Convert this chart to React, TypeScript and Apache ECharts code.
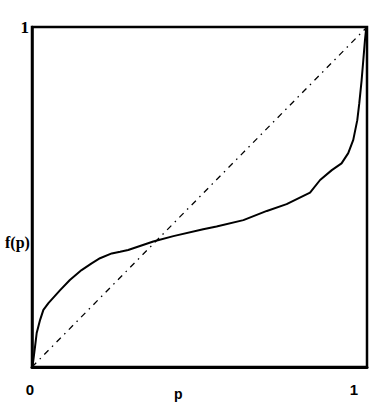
import React, { useEffect, useRef } from "react";
import * as echarts from "echarts";

const pValues = [0, 0.003, 0.009, 0.014, 0.024, 0.034, 0.049, 0.084, 0.113, 0.148, 0.178, 0.203, 0.238, 0.263, 0.287, 0.362, 0.422, 0.511, 0.551, 0.631, 0.701, 0.76, 0.83, 0.86, 0.895, 0.924, 0.944, 0.959, 0.971, 0.977, 0.984, 0.989, 0.994, 0.997, 1];
const fValues = [0, 0.012, 0.059, 0.1, 0.138, 0.168, 0.188, 0.226, 0.256, 0.285, 0.305, 0.32, 0.334, 0.339, 0.344, 0.369, 0.385, 0.405, 0.413, 0.432, 0.459, 0.479, 0.513, 0.55, 0.579, 0.599, 0.629, 0.668, 0.726, 0.776, 0.844, 0.903, 0.962, 0.991, 1];
const diagP = [0, 1];
const diagF = [0, 1];
const xTickLabels = ["0", "1"];
const yTickLabels = ["1"];
const xName = "p";
const yName = "f(p)";

export default function App() {
  const ref = useRef<HTMLDivElement>(null);
  useEffect(() => {
    if (!ref.current) return;
    const chart = echarts.init(ref.current, undefined, { renderer: "svg" });
    chart.setOption({
      animation: false,
      backgroundColor: "#ffffff",
      grid: {
        left: 32,
        top: 27,
        width: 335,
        height: 340,
        show: true,
        borderColor: "#000",
        borderWidth: 2.5,
        backgroundColor: "transparent",
      },
      xAxis: {
        type: "value",
        min: 0,
        max: 1,
        interval: 1,
        splitLine: { show: false },
        axisTick: { show: false },
        axisLine: { show: true, lineStyle: { color: "#000", width: 3 } },
        axisLabel: {
          margin: 15,
          color: "#000",
          fontFamily: "Liberation Sans",
          fontWeight: "bold",
          fontSize: 15,
          formatter: (v: number) => (v === 1 ? "{r|" + xTickLabels[1] + "}" : "{l|" + xTickLabels[0] + "}"),
          rich: {
            r: { padding: [0, 26, 0, 0], fontFamily: "Liberation Sans", fontWeight: "bold", fontSize: 15, color: "#000" },
            l: { padding: [0, 4, 0, 0], fontFamily: "Liberation Sans", fontWeight: "bold", fontSize: 15, color: "#000" },
          },
        },
      },
      yAxis: {
        type: "value",
        min: 0,
        max: 1,
        interval: 1,
        splitLine: { show: false },
        axisTick: { show: false },
        axisLine: { show: true, lineStyle: { color: "#000", width: 2.5 } },
        axisLabel: {
          margin: 3,
          color: "#000",
          fontFamily: "Liberation Serif",
          fontWeight: "bold",
          fontSize: 17,
          formatter: (v: number) => (v === 1 ? yTickLabels[0] : ""),
        },
      },
      graphic: [
        {
          type: "text",
          left: 174,
          top: 387,
          style: { text: xName, font: "bold 14px 'Liberation Sans'", fill: "#000" },
        },
        {
          type: "text",
          left: 5,
          top: 234,
          style: { text: yName, font: "bold 16px 'Liberation Serif'", fill: "#000" },
        },
      ],
      series: [
        {
          type: "line",
          data: diagP.map((p, i) => [p, diagF[i]]),
          symbol: "none",
          lineStyle: { color: "#000", width: 1.3, type: [6, 5, 1.5, 5] },
        },
        {
          type: "line",
          data: pValues.map((p, i) => [p, fValues[i]]),
          symbol: "none",
          smooth: false,
          lineStyle: { color: "#000", width: 2 },
        },
      ],
    });
    return () => chart.dispose();
  }, []);
  return (
    <div
      ref={ref}
      style={{ position: "fixed", left: 0, top: 0, width: 392, height: 405, background: "#fff" }}
    />
  );
}
